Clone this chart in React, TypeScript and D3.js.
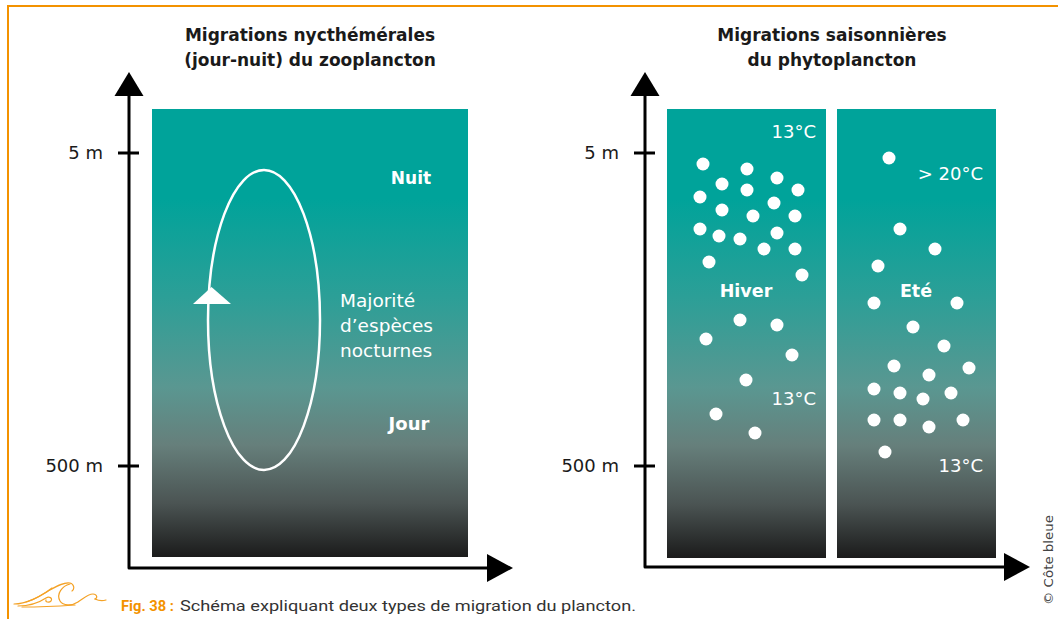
import React from "react";
import * as d3 from "d3";

// ---------- data ----------
const depthTicks = [5, 500];
const depthTickLabels = ["5 m", "500 m"];

const leftTitle = ["Migrations nycthémérales", "(jour-nuit) du zooplancton"];
const rightTitle = ["Migrations saisonnières", "du phytoplancton"];
const nocturnalLabel = ["Majorité", "d\u2019espèces", "nocturnes"];

// dot positions inside each column: [x offset, depth offset] (px units of the panel)
const hiverDots: [number, number][] = [
  [36, 55], [80, 60], [110, 69], [55, 75], [131, 81], [33, 88], [80, 81], [107, 94],
  [55, 101], [128, 107], [86, 107], [33, 120], [52, 127], [73, 130], [110, 124],
  [97, 140], [128, 140], [42, 153], [135, 166], [73, 211], [110, 216], [39, 230],
  [125, 246], [79, 271], [49, 305], [88, 324],
];
const eteDots: [number, number][] = [
  [52, 49], [63, 120], [98, 140], [41, 157], [37, 194], [120, 194], [76, 218],
  [107, 237], [57, 257], [92, 266], [132, 259], [37, 280], [63, 284], [86, 290],
  [114, 284], [37, 311], [63, 311], [92, 318], [126, 311], [48, 343],
];

const gradientStops: [number, string][] = [
  [0, "#00a39a"],
  [0.2, "#00a39a"],
  [0.42, "#2c9f97"],
  [0.62, "#5a9791"],
  [0.75, "#667f7b"],
  [0.88, "#4b5453"],
  [1, "#1b1b1b"],
];

const ORANGE = "#f39200";

export default function App() {
  const W = 1058, H = 619;
  const panelTop = 109, panelBottom = 558;
  const depth = d3.scaleLog().domain([5, 500]).range([153, 466]);

  const cols = [
    { x0: 667, x1: 826, dots: hiverDots },
    { x0: 837, x1: 996, dots: eteDots },
  ];

  const axis = (x: number, xEnd: number, yAxis: number, tipX: number) => {
    const lines = [];
    lines.push(
      <path key="ax" d={`M${x},96 L${x},${yAxis} L${xEnd},${yAxis}`} fill="none" stroke="#000" strokeWidth={3} strokeLinejoin="round" />
    );
    lines.push(<polygon key="up" points={`${x},72 ${x - 14.5},96 ${x + 14.5},96`} fill="#000" />);
    lines.push(<polygon key="rt" points={`${tipX},${yAxis} ${tipX - 26},${yAxis - 14} ${tipX - 26},${yAxis + 14}`} fill="#000" />);
    depthTicks.forEach((t, i) => {
      lines.push(<line key={"t" + i} x1={x - 11} x2={x + 10} y1={depth(t)} y2={depth(t)} stroke="#000" strokeWidth={3} />);
      lines.push(
        <text key={"l" + i} x={x - 26} y={depth(t) + 6} textAnchor="end" fontFamily="DejaVu Sans" fontSize={18} fill="#1a1a1a">
          {depthTickLabels[i]}
        </text>
      );
    });
    return lines;
  };

  const whiteText = { fontFamily: "DejaVu Sans", fill: "#fff" } as const;

  return (
    <svg width={W} height={H} style={{ position: "absolute", left: 0, top: 0 }} xmlns="http://www.w3.org/2000/svg">
      <defs>
        <linearGradient id="sea" x1="0" y1="0" x2="0" y2="1">
          {gradientStops.map(([o, c], i) => (
            <stop key={i} offset={o} stopColor={c} />
          ))}
        </linearGradient>
      </defs>
      <rect width={W} height={H} fill="#fff" />
      {/* orange frame */}
      <line x1={7} x2={W} y1={6} y2={6} stroke={ORANGE} strokeWidth={2} />
      <line x1={8} x2={8} y1={5} y2={H} stroke={ORANGE} strokeWidth={2} />

      {/* titles */}
      {leftTitle.map((t, i) => (
        <text key={"lt" + i} x={310} y={41 + i * 25} textAnchor="middle" fontFamily="DejaVu Sans" fontWeight="bold" fontSize={17} fill="#1a1a1a">{t}</text>
      ))}
      {rightTitle.map((t, i) => (
        <text key={"rt" + i} x={832} y={41 + i * 25} textAnchor="middle" fontFamily="DejaVu Sans" fontWeight="bold" fontSize={17} fill="#1a1a1a">{t}</text>
      ))}

      {/* left panel */}
      <rect x={152} y={panelTop} width={316} height={panelBottom - panelTop - 1} fill="url(#sea)" />
      <ellipse cx={264} cy={320} rx={56} ry={150} fill="none" stroke="#fff" strokeWidth={2.5} />
      <polygon points="211.5,287 193,304 231,304" fill="#fff" />
      <text x={411} y={184} textAnchor="middle" fontWeight="bold" fontSize={17} {...whiteText}>Nuit</text>
      {nocturnalLabel.map((t, i) => (
        <text key={"n" + i} x={340} y={307 + i * 25} fontSize={18.5} {...whiteText}>{t}</text>
      ))}
      <text x={409} y={430} textAnchor="middle" fontWeight="bold" fontSize={18} {...whiteText}>Jour</text>
      {axis(129, 490, 568, 513)}

      {/* right panel */}
      {cols.map((c, ci) => {
        const xs = d3.scaleLinear().domain([0, c.x1 - c.x0]).range([c.x0, c.x1]);
        const ys = d3.scaleLinear().domain([0, panelBottom - panelTop]).range([panelTop, panelBottom]);
        return (
          <g key={"c" + ci}>
            <rect x={c.x0} y={panelTop} width={c.x1 - c.x0} height={panelBottom - panelTop} fill="url(#sea)" />
            {c.dots.map(([dx, dy], i) => (
              <circle key={i} cx={xs(dx)} cy={ys(dy)} r={6.5} fill="#fff" />
            ))}
          </g>
        );
      })}
      <text x={816} y={138} textAnchor="end" fontSize={18} {...whiteText}>13°C</text>
      <text x={746} y={297} textAnchor="middle" fontWeight="bold" fontSize={17.5} {...whiteText}>Hiver</text>
      <text x={816} y={405} textAnchor="end" fontSize={18} {...whiteText}>13°C</text>
      <text x={983} y={180} textAnchor="end" fontSize={18} {...whiteText}>{"> 20°C"}</text>
      <text x={916} y={297} textAnchor="middle" fontWeight="bold" fontSize={17.5} {...whiteText}>Eté</text>
      <text x={983} y={472} textAnchor="end" fontSize={18} {...whiteText}>13°C</text>
      {axis(645, 1006, 567, 1030)}

      {/* caption logo */}
      <g fill="none" stroke={ORANGE} strokeWidth={1.2} strokeLinecap="round" strokeLinejoin="round" opacity={0.85}>
        <path d="M14,604 C28,604 40,596 50,590 C57,586 64,582 70,583 C74,584 75,589 72,591" />
        <path d="M18,606 C30,606 40,602 46,598 C49,596 53,598 51,601 C49,603 45,602 46,600" />
        <path d="M70,584 C62,586 56,594 60,601 C63,606 72,606 78,602 C84,598 88,594 93,594 C97,594 98,598 95,599" />
        <path d="M95,599 C99,601 103,601 106,600" />
        <path d="M22,607 C40,607 60,606 75,605" />
        <path d="M26,602 C36,599 44,594 52,588" />
      </g>
      <text x={121} y={611} fontFamily="Roboto" fontWeight="bold" fontSize={15.5} fill={ORANGE} textLength={53} lengthAdjust="spacingAndGlyphs">Fig. 38 :</text>
      <text x={180} y={611} fontFamily="Roboto" fontSize={15.5} fill="#333" textLength={456} lengthAdjust="spacingAndGlyphs">Schéma expliquant deux types de migration du plancton.</text>
      <text transform="translate(1053,605) rotate(-90)" fontFamily="DejaVu Sans" fontSize={13} fill="#444" textLength={90} lengthAdjust="spacingAndGlyphs">© Côte bleue</text>
    </svg>
  );
}
